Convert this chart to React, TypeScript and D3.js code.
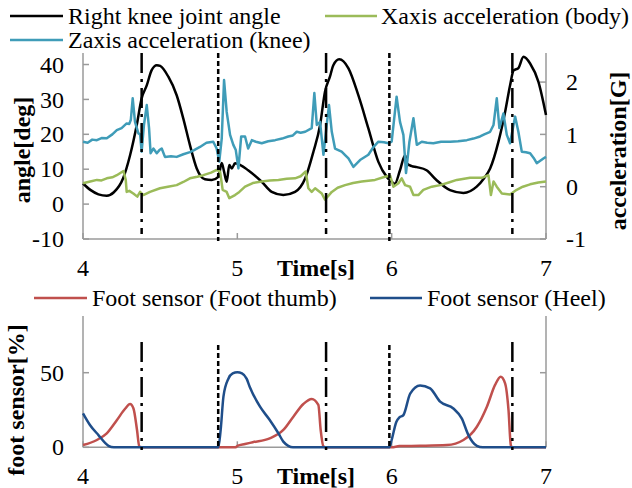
import React from 'react';
import * as d3 from 'd3';

// ---- data ----
const kneeAngle: [number, number][] = [
  [4.0,5.9],[4.05,4.0],[4.1,2.8],[4.154,2.4],[4.2,3.4],[4.26,7.4],[4.305,14],[4.348,22.6],[4.38,30.3],[4.413,34],[4.445,38.4],[4.478,39.8],[4.5,39.6],[4.553,36.5],[4.607,31.2],[4.65,24.5],[4.693,16.9],[4.737,10.2],[4.79,7.1],[4.834,6.9],[4.877,7.8],[4.899,11.8],[4.914,9.3],[4.931,6.4],[4.948,11.2],[4.964,10.2],[4.985,11.7],[5.02,11.2],[5.07,9.7],[5.158,6.4],[5.223,3.5],[5.298,2.6],[5.374,3.5],[5.44,7.4],[5.493,15],[5.536,22.6],[5.568,32.2],[5.6,36.5],[5.622,39.8],[5.66,41.5],[5.72,38.9],[5.784,31.2],[5.849,21.7],[5.914,12.1],[5.968,7.8],[6.0,6.4],[6.02,5.8],[6.054,9.7],[6.087,14],[6.1,11.6],[6.13,10.9],[6.163,10.6],[6.226,9.7],[6.29,6.9],[6.378,4.0],[6.465,3.2],[6.551,5.0],[6.6,7.5],[6.638,10.2],[6.692,17.9],[6.735,26.4],[6.767,34],[6.79,38.3],[6.821,39],[6.854,42.2],[6.897,40.3],[6.951,35],[7.0,25.5]
];

const zAccKnee: [number, number][] = [
  [4.0,0.86],[4.03,0.84],[4.06,0.9],[4.09,0.89],[4.12,0.93],[4.154,0.925],[4.19,1.0],[4.219,1.08],[4.25,1.12],[4.283,1.21],[4.3,1.2],[4.31,1.28],[4.322,1.69],[4.337,1.24],[4.359,1.02],[4.37,1.0],[4.38,0.67],[4.395,1.18],[4.413,1.56],[4.428,1.12],[4.438,0.64],[4.456,0.73],[4.478,0.64],[4.495,0.7],[4.51,0.73],[4.531,0.57],[4.57,0.58],[4.607,0.57],[4.65,0.62],[4.693,0.66],[4.72,0.7],[4.758,0.76],[4.8,0.84],[4.844,0.86],[4.866,0.73],[4.883,0.48],[4.899,0.925],[4.914,2.04],[4.931,1.43],[4.953,0.99],[4.974,0.8],[4.99,0.7],[5.007,0.35],[5.025,0.96],[5.05,0.96],[5.07,0.73],[5.094,0.89],[5.12,0.86],[5.158,0.83],[5.2,0.87],[5.245,0.89],[5.29,0.92],[5.33,0.96],[5.36,0.98],[5.385,1.05],[5.41,1.03],[5.44,1.05],[5.482,1.12],[5.499,1.79],[5.515,1.18],[5.536,1.24],[5.558,0.61],[5.579,1.18],[5.594,1.56],[5.612,1.05],[5.633,0.73],[5.676,0.67],[5.7,0.6],[5.72,0.54],[5.752,0.38],[5.795,0.51],[5.849,0.61],[5.88,0.75],[5.914,0.86],[5.95,0.85],[5.979,0.83],[6.0,0.86],[6.032,1.72],[6.054,1.24],[6.076,0.99],[6.093,0.26],[6.115,0.86],[6.141,1.31],[6.163,0.8],[6.195,0.86],[6.23,0.84],[6.27,0.83],[6.32,0.86],[6.379,0.86],[6.43,0.87],[6.487,0.89],[6.53,0.92],[6.573,0.96],[6.6,1.0],[6.638,1.05],[6.66,1.18],[6.681,1.69],[6.698,1.12],[6.724,1.4],[6.746,0.99],[6.767,0.83],[6.8,1.34],[6.821,1.05],[6.843,0.67],[6.87,0.66],[6.897,0.64],[6.92,0.55],[6.94,0.45],[6.983,0.54],[7.0,0.57]
];

const xAccBody: [number, number][] = [
  [4.0,0.065],[4.047,0.1],[4.09,0.13],[4.12,0.12],[4.154,0.16],[4.19,0.18],[4.219,0.22],[4.262,0.3],[4.277,0.13],[4.283,-0.1],[4.3,-0.08],[4.326,-0.13],[4.352,-0.19],[4.37,-0.1],[4.391,-0.16],[4.434,-0.1],[4.499,-0.03],[4.55,0.0],[4.607,0.03],[4.65,0.09],[4.693,0.16],[4.74,0.19],[4.78,0.22],[4.83,0.27],[4.866,0.32],[4.888,0.29],[4.905,-0.06],[4.931,-0.1],[4.948,-0.22],[4.985,-0.16],[5.013,-0.1],[5.05,0.0],[5.1,0.07],[5.158,0.1],[5.21,0.12],[5.266,0.13],[5.32,0.15],[5.374,0.16],[5.41,0.2],[5.443,0.29],[5.46,-0.03],[5.482,-0.1],[5.504,-0.03],[5.547,-0.13],[5.568,-0.25],[5.612,-0.1],[5.65,-0.02],[5.698,0.03],[5.75,0.07],[5.806,0.1],[5.892,0.13],[5.957,0.19],[5.99,0.21],[6.011,0.0],[6.044,0.065],[6.065,0.16],[6.087,0.03],[6.119,0.0],[6.141,-0.16],[6.173,-0.16],[6.205,-0.06],[6.26,0.0],[6.314,0.03],[6.37,0.08],[6.422,0.13],[6.508,0.17],[6.584,0.17],[6.627,0.22],[6.643,-0.16],[6.66,0.1],[6.681,0.0],[6.714,-0.13],[6.767,-0.15],[6.81,-0.06],[6.85,0.0],[6.897,0.045],[6.95,0.08],[7.0,0.1]
];

const footThumb: [number, number][] = [
  [4.0,1.5],[4.09,4.9],[4.154,9.4],[4.22,18.3],[4.274,26],[4.305,29],[4.327,26],[4.35,11.6],[4.365,0.4],[4.38,0],[4.99,0],[5.0,1.0],[5.05,2.2],[5.1,3.4],[5.21,6],[5.298,11.6],[5.363,20.5],[5.428,29],[5.482,32.4],[5.525,28.4],[5.54,11.6],[5.558,0.5],[5.57,0],[6.0,0],[6.05,0.8],[6.184,1.0],[6.357,1.5],[6.465,4.9],[6.552,13.8],[6.617,27.2],[6.67,41.8],[6.706,47.3],[6.735,42.9],[6.757,25],[6.772,1.5],[6.78,0],[7.0,0]
];

const footHeel: [number, number][] = [
  [4.0,22.8],[4.045,15],[4.1,8.2],[4.165,1],[4.2,0],[4.877,0],[4.892,11.6],[4.91,34],[4.942,46],[4.97,49.5],[5.0,50.3],[5.03,49.5],[5.06,46],[5.08,40.6],[5.147,27.2],[5.21,18.3],[5.266,9.4],[5.298,3.8],[5.33,1],[5.36,0],[5.985,0],[6.0,4.9],[6.03,17],[6.05,20],[6.076,21.6],[6.12,36],[6.184,41.5],[6.249,39.5],[6.314,30.6],[6.4,26],[6.454,19.4],[6.497,8.2],[6.552,1],[6.59,0],[7.0,0]
];

const dashDotTimes = [4.38, 5.575, 6.782];
const dashedTimes = [4.876, 5.985];

const xTicks = [4, 5, 6, 7];
const angleTicks = [-10, 0, 10, 20, 30, 40];
const accTicks = [-1, 0, 1, 2];
const footTicks = [0, 50];

const topLegend = ['Right knee joint angle', 'Xaxis acceleration (body)', 'Zaxis acceleration (knee)'];
const bottomLegend = ['Foot sensor (Foot thumb)', 'Foot sensor (Heel)'];

// ---- styles ----
const C_BLACK = '#000000';
const C_GREEN = '#9bbb59';
const C_TEAL = '#3f9cb8';
const C_RED = '#c0504d';
const C_NAVY = '#1f4e8a';
const C_AXIS = '#9a9a9a';
const FONT = '"Liberation Serif", "Times New Roman", serif';

export default function App() {
  const L = 83, R = 546;
  const x = d3.scaleLinear().domain([4, 7]).range([L, R]);
  const yAng = d3.scaleLinear().domain([-10, 43.3]).range([239, 53]);
  const yAcc = d3.scaleLinear().domain([-1, 2.556]).range([239, 53]);
  const yFoot = d3.scaleLinear().domain([0, 88]).range([447.3, 316]);

  const lineAng = d3.line<[number, number]>().x(d => x(d[0])).y(d => yAng(d[1])).curve(d3.curveMonotoneX);
  const lineAcc = d3.line<[number, number]>().x(d => x(d[0])).y(d => yAcc(d[1]));
  const lineFoot = d3.line<[number, number]>().x(d => x(d[0])).y(d => yFoot(d[1])).curve(d3.curveMonotoneX);

  const fs = 24;
  const tickLen = 6;

  return (
    <svg width={632} height={488} style={{ position: 'absolute', left: 0, top: 0, background: '#fff' }}
      fontFamily={FONT}>
      <rect x={0} y={0} width={632} height={488} fill="#fff" />

      {/* top legend */}
      <g fontSize={fs}>
        <line x1={10} x2={63} y1={16} y2={16} stroke={C_BLACK} strokeWidth={2.5} />
        <text x={68} y={24}>{topLegend[0]}</text>
        <line x1={325} x2={377} y1={16} y2={16} stroke={C_GREEN} strokeWidth={2.5} />
        <text x={381} y={24}>{topLegend[1]}</text>
        <line x1={10} x2={63} y1={40} y2={40} stroke={C_TEAL} strokeWidth={2.5} />
        <text x={68} y={48}>{topLegend[2]}</text>
      </g>

      {/* top axes */}
      <g stroke={C_AXIS} strokeWidth={1.5} fill="none">
        <line x1={L} x2={L} y1={53} y2={239} />
        <line x1={R} x2={R} y1={53} y2={239} />
        <line x1={L} x2={R} y1={239} y2={239} />
        {angleTicks.map(t => <line key={'a' + t} x1={L} x2={L + tickLen} y1={yAng(t)} y2={yAng(t)} />)}
        {accTicks.map(t => <line key={'c' + t} x1={R - tickLen} x2={R} y1={yAcc(t)} y2={yAcc(t)} />)}
        {xTicks.map(t => <line key={'x' + t} x1={x(t)} x2={x(t)} y1={239} y2={239 - tickLen} />)}
      </g>
      <g fontSize={fs} textAnchor="end">
        {angleTicks.map(t => <text key={t} x={64} y={yAng(t)} dy="0.34em">{t}</text>)}
      </g>
      <g fontSize={fs} textAnchor="start">
        {accTicks.map(t => <text key={t} x={566} y={yAcc(t)} dy="0.34em">{t}</text>)}
      </g>
      <g fontSize={fs} textAnchor="middle">
        {xTicks.map(t => <text key={t} x={x(t)} y={276}>{t}</text>)}
        <text x={316} y={276} fontWeight="bold">Time[s]</text>
      </g>
      <text transform="translate(30,150) rotate(-90)" textAnchor="middle" fontSize={fs} fontWeight="bold">angle[deg]</text>
      <text transform="translate(626,151) rotate(-90)" textAnchor="middle" fontSize={fs} fontWeight="bold">acceleration[G]</text>

      {/* top series */}
      <path d={lineAng(kneeAngle) || ''} fill="none" stroke={C_BLACK} strokeWidth={2.5} strokeLinejoin="round" />
      <path d={lineAcc(xAccBody) || ''} fill="none" stroke={C_GREEN} strokeWidth={2.5} strokeLinejoin="round" />
      <path d={lineAcc(zAccKnee) || ''} fill="none" stroke={C_TEAL} strokeWidth={2.5} strokeLinejoin="round" />

      {/* top event lines */}
      <g stroke="#000" strokeWidth={2.5}>
        {dashDotTimes.map(t => <line key={t} x1={x(t)} x2={x(t)} y1={53} y2={234} strokeDasharray="20,6,3,6" />)}
        {dashedTimes.map(t => <line key={t} x1={x(t)} x2={x(t)} y1={53} y2={241} strokeDasharray="5,3" />)}
      </g>

      {/* bottom legend */}
      <g fontSize={fs}>
        <line x1={34} x2={87} y1={298} y2={298} stroke={C_RED} strokeWidth={2.5} />
        <text x={92} y={306}>{bottomLegend[0]}</text>
        <line x1={370} x2={422} y1={298} y2={298} stroke={C_NAVY} strokeWidth={2.5} />
        <text x={427} y={306}>{bottomLegend[1]}</text>
      </g>

      {/* bottom axes */}
      <g stroke={C_AXIS} strokeWidth={1.5} fill="none">
        <line x1={L} x2={L} y1={316} y2={447.3} />
        <line x1={R} x2={R} y1={316} y2={447.3} />
        <line x1={L} x2={R} y1={447.3} y2={447.3} />
        {footTicks.map(t => <line key={'l' + t} x1={L} x2={L + tickLen} y1={yFoot(t)} y2={yFoot(t)} />)}
        {footTicks.map(t => <line key={'r' + t} x1={R - tickLen} x2={R} y1={yFoot(t)} y2={yFoot(t)} />)}
        {xTicks.map(t => <line key={'x' + t} x1={x(t)} x2={x(t)} y1={447.3} y2={447.3 - tickLen} />)}
      </g>
      <g fontSize={fs} textAnchor="end">
        {footTicks.map(t => <text key={t} x={64} y={yFoot(t)} dy="0.34em">{t}</text>)}
      </g>
      <g fontSize={fs} textAnchor="middle">
        {xTicks.map(t => <text key={t} x={x(t)} y={484}>{t}</text>)}
        <text x={316} y={484} fontWeight="bold">Time[s]</text>
      </g>
      <text transform="translate(24,400) rotate(-90)" textAnchor="middle" fontSize={fs} fontWeight="bold">foot sensor[%]</text>

      {/* bottom series */}
      <path d={lineFoot(footThumb) || ''} fill="none" stroke={C_RED} strokeWidth={2.5} strokeLinejoin="round" />
      <path d={lineFoot(footHeel) || ''} fill="none" stroke={C_NAVY} strokeWidth={2.5} strokeLinejoin="round" />

      {/* bottom event lines */}
      <g stroke="#000" strokeWidth={2.5}>
        {dashDotTimes.map(t => <line key={t} x1={x(t)} x2={x(t)} y1={342} y2={450} strokeDasharray="20,6,3,6" />)}
        {dashedTimes.map(t => <line key={t} x1={x(t)} x2={x(t)} y1={345} y2={449} strokeDasharray="5,3" />)}
      </g>
    </svg>
  );
}
